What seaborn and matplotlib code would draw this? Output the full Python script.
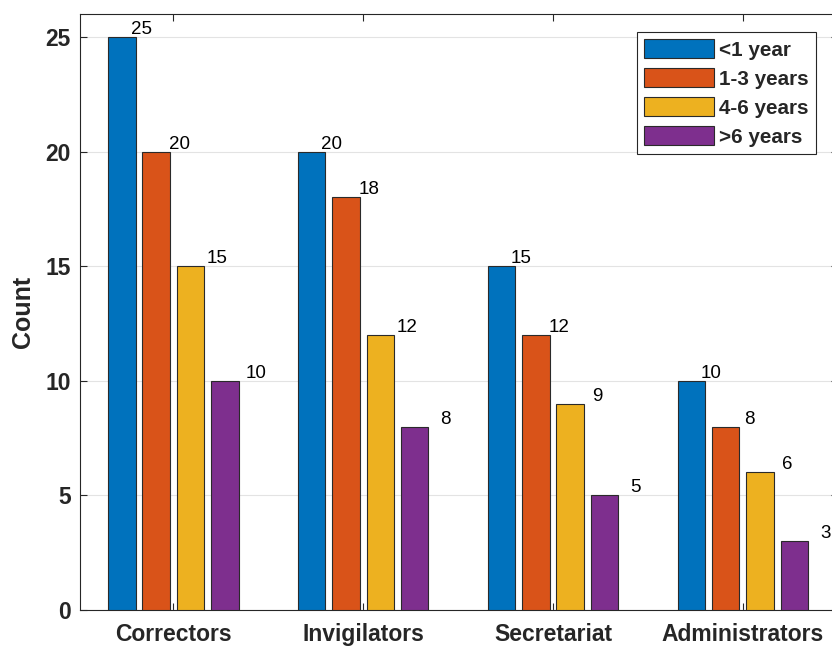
import numpy as np
import pandas as pd
import matplotlib
matplotlib.use("Agg")
import matplotlib.pyplot as plt
import seaborn as sns

# ---- data ----
categories = ["Correctors", "Invigilators", "Secretariat", "Administrators"]
series = ["<1 year", "1-3 years", "4-6 years", ">6 years"]
less_1 = [25, 20, 15, 10]
years_1_3 = [20, 18, 12, 8]
years_4_6 = [15, 12, 9, 6]
more_6 = [10, 8, 5, 3]
yticks = [0, 5, 10, 15, 20, 25]

colors = ["#0072BD", "#D95319", "#EDB120", "#7E2F8E"]

rows = []
for s, vals in zip(series, [less_1, years_1_3, years_4_6, more_6]):
    for c, v in zip(categories, vals):
        rows.append({"group": c, "series": s, "count": v})
df = pd.DataFrame(rows)

sns.set_style("ticks")
plt.rcParams["font.family"] = ["Liberation Sans", "DejaVu Sans"]

fig = plt.figure(figsize=(8.32, 6.48), dpi=100)
ax = fig.add_axes([80 / 832, 1 - 610 / 648, 757.7 / 832, 596 / 648])

sns.barplot(data=df, x="group", y="count", hue="series", order=categories,
            hue_order=series, palette=colors, saturation=1, width=0.724, gap=0.2,
            edgecolor="#2a2a2a", linewidth=0.8, errorbar=None, ax=ax, zorder=3)

ax.set_xlim(-0.492, 3.5)
ax.set_ylim(0, 26)
ax.set_yticks(yticks)
ax.set_xlabel("")
ax.set_ylabel("Count", fontsize=18, fontweight="bold", color="#262626", labelpad=7)

ax.yaxis.grid(True, color="#e3e3e3", linewidth=0.8, zorder=0)
ax.xaxis.grid(False)
ax.set_axisbelow(True)

for sp in ax.spines.values():
    sp.set_visible(True)
    sp.set_color("#262626")
    sp.set_linewidth(0.8)

ax.tick_params(axis="both", direction="in", top=True, right=True, length=5,
               width=0.8, color="#262626", labelcolor="#262626", labelsize=16.5)
ax.tick_params(axis="x", pad=9.5)
ax.tick_params(axis="y", pad=6.7)
for lab in ax.get_xticklabels() + ax.get_yticklabels():
    lab.set_fontweight("bold")

# value labels
shifts = [0.103, 0.123, 0.142, 0.163]
for k, cont in enumerate(ax.containers):
    for bar in cont:
        h = bar.get_height()
        x = bar.get_x() + bar.get_width() / 2 + shifts[k]
        ax.text(x, h + 0.13, f"{int(round(h))}", ha="center", va="baseline",
                fontsize=13.5, color="#000000", zorder=5)

handles, labels = ax.get_legend_handles_labels()
if ax.get_legend() is not None:
    ax.get_legend().remove()
leg = ax.legend(handles, labels, loc="upper right", bbox_to_anchor=(0.9714, 0.9698),
                borderaxespad=0, fancybox=False, frameon=True, handlelength=3.38,
                handleheight=1.0, handletextpad=0.25, labelspacing=0.42, borderpad=0.35,
                prop={"size": 14.9, "weight": "bold"})
leg.get_frame().set_edgecolor("#262626")
leg.get_frame().set_linewidth(0.8)
leg.get_frame().set_alpha(1)

fig.savefig("out.png", dpi=100)
